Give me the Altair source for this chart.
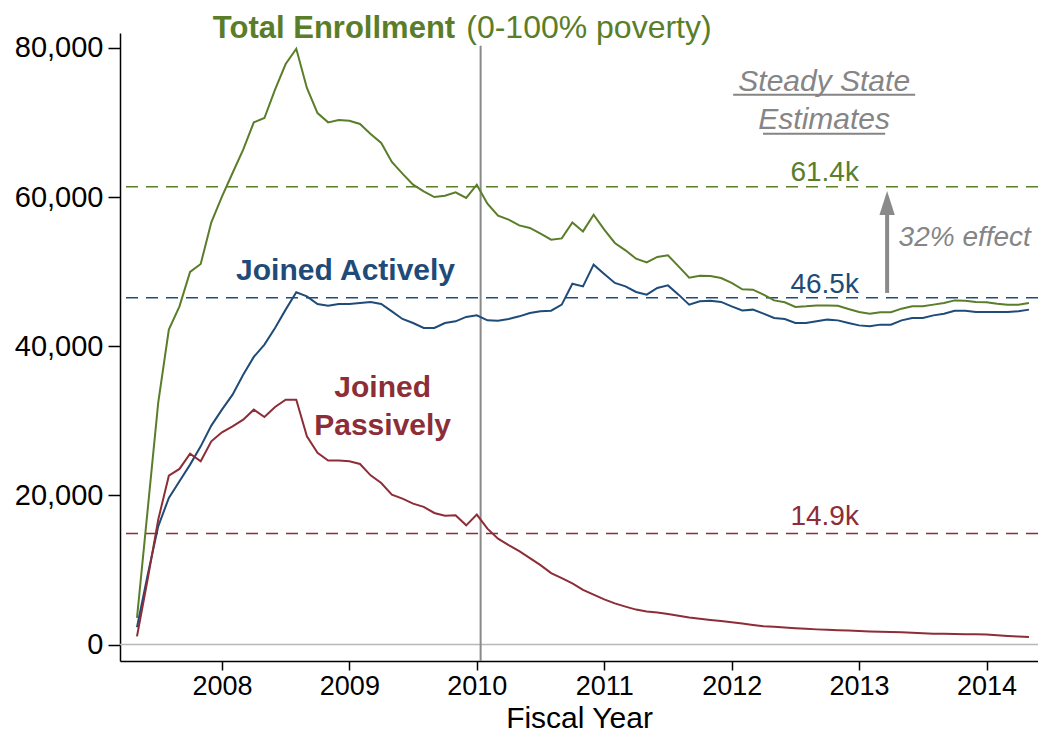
import altair as alt
import pandas as pd

# ---------------- data ----------------
START_YEAR = 2007 + 4 / 12          # first monthly observation (May 2007)
total = [3580, 18000, 32440, 42230, 45350, 49960, 51030, 56610, 60060, 63230,
         66350, 70020, 70600, 74400, 77840, 79890, 74630, 71270, 70020, 70340,
         70240, 69800, 68460, 67250, 64700, 63140, 61660, 60770, 60010, 60190,
         60630, 59880, 61660, 59120, 57500, 56970, 56210, 55860, 55090, 54290,
         54460, 56610, 55400, 57640, 55630, 53850, 52860, 51740, 51250, 51970,
         52190, 50710, 49200, 49460, 49420, 49150, 48490, 47630, 47590, 46920,
         46150, 45890, 45270, 45350, 45480, 45480, 45440, 45000, 44600, 44370,
         44550, 44550, 45040, 45350, 45350, 45580, 45800, 46150, 46110, 45940,
         45890, 45710, 45580, 45580, 45800]
active = [2320, 9290, 15860, 19670, 21890, 24130, 26580, 29360, 31500, 33510,
          36190, 38570, 40220, 42450, 44910, 47230, 46690, 45670, 45440, 45670,
          45670, 45800, 45940, 45670, 44680, 43660, 43120, 42450, 42450, 43120,
          43340, 43930, 44140, 43470, 43430, 43660, 44010, 44460, 44680, 44770,
          45580, 48390, 48030, 50940, 49690, 48490, 48030, 47280, 46920, 47820,
          48160, 46920, 45580, 46020, 46110, 45940, 45350, 44810, 44910, 44370,
          43790, 43660, 43120, 43120, 43340, 43570, 43470, 43120, 42800, 42670,
          42900, 42900, 43470, 43790, 43790, 44140, 44370, 44770, 44770, 44600,
          44600, 44600, 44600, 44680, 44910]
passive = [1110, 8710, 16760, 22650, 23550, 25600, 24570, 27250, 28460, 29260,
           30160, 31500, 30520, 31860, 32840, 32840, 27920, 25700, 24670, 24670,
           24570, 24220, 22690, 21670, 20110, 19570, 18900, 18460, 17650, 17290,
           17330, 15990, 17430, 15550, 14210, 13340, 12530, 11600, 10660, 9580,
           8910, 8200, 7330, 6700, 6070, 5520, 5090, 4690, 4450, 4290,
           4110, 3860, 3640, 3460, 3310, 3150, 2990, 2820, 2640, 2450,
           2390, 2290, 2200, 2120, 2040, 1980, 1930, 1880, 1820, 1770,
           1730, 1680, 1640, 1580, 1530, 1470, 1450, 1420, 1390, 1370,
           1340, 1260, 1150, 1070, 1010]

series_names = ["Total Enrollment", "Joined Actively", "Joined Passively"]
series_colors = ["#5a7d2a", "#1e4b78", "#8c2d37"]
steady_values = [61400, 46500, 14900]
steady_labels = ["61.4k", "46.5k", "14.9k"]
x_ticks = [2008, 2009, 2010, 2011, 2012, 2013, 2014]
y_ticks = [0, 20000, 40000, 60000, 80000]
policy_year = 2010.03
effect_label = "32% effect"

GRAY_TXT = "#858585"
GRAY_LINE = "#8a8a8a"
FONT = "Liberation Sans"

# ---------------- tables ----------------
rows = []
for name, vals in zip(series_names, [total, active, passive]):
    for i, v in enumerate(vals):
        rows.append({"series": name, "x": START_YEAR + i / 12, "y": v})
lines_df = pd.DataFrame(rows)

steady_df = pd.DataFrame({"series": series_names, "y": steady_values,
                          "text": steady_labels,
                          "ty": [62200, 47150, 16090], "x": [2012.73] * 3})

xs = alt.Scale(domain=[2007.2, 2014.404], nice=False, zero=False)
ys = alt.Scale(domain=[-2200, 82000], nice=False, zero=False)
cs = alt.Scale(domain=series_names, range=series_colors)

x_axis = alt.Axis(values=x_ticks, format="d", title="Fiscal Year", grid=False,
                  tickSize=9, labelFontSize=27, labelPadding=3,
                  titleFontSize=30, titleFontWeight="normal",
                  titleY=66, titleBaseline="alphabetic",
                  labelFlush=False)
y_axis = alt.Axis(values=y_ticks, format=",d", title=None, grid=False,
                  tickSize=12, labelFontSize=29, labelPadding=5)


def X(field="x"):
    return alt.X(f"{field}:Q", scale=xs, axis=x_axis)


def Y(field="y"):
    return alt.Y(f"{field}:Q", scale=ys, axis=y_axis)


def text_layer(df, **kw):
    return alt.Chart(df).mark_text(font=FONT, baseline="alphabetic", **kw).encode(
        x=X(), y=Y(), text="text:N")


zero_line = alt.Chart(pd.DataFrame({"y": [0]})).mark_rule(
    color="#b8b8b8", strokeWidth=1.5).encode(y=Y())

vline = alt.Chart(pd.DataFrame({"x": [policy_year], "y": [80300], "y2": [-2200]})).mark_rule(
    color=GRAY_LINE, strokeWidth=2).encode(x=X(), y=Y(), y2="y2:Q")

steady_rules = alt.Chart(steady_df).mark_rule(
    strokeDash=[12, 8], strokeWidth=1.5).encode(
    y=Y(), color=alt.Color("series:N", scale=cs, legend=None))

steady_text = alt.Chart(steady_df).mark_text(
    fontSize=28, font=FONT, align="center", baseline="alphabetic").encode(
    x=X(), y=Y("ty"), text="text:N",
    color=alt.Color("series:N", scale=cs, legend=None))

lines = alt.Chart(lines_df).mark_line(strokeWidth=2).encode(
    x=X(), y=Y(), color=alt.Color("series:N", scale=cs, legend=None),
    order=alt.Order("x:Q"))

# arrow showing effect
arrow_shaft = alt.Chart(pd.DataFrame({"x": [2013.22], "y": [47150], "y2": [57640]})).mark_rule(
    color=GRAY_LINE, strokeWidth=4).encode(x=X(), y=Y(), y2="y2:Q")
arrow_head = alt.Chart(pd.DataFrame({"x": [2013.22], "y": [59210]})).mark_point(
    shape="M0,-1L0.64,1L-0.64,1Z", size=576, filled=True, opacity=1,
    color=GRAY_LINE, strokeWidth=0).encode(x=X(), y=Y())
effect_text = text_layer(
    pd.DataFrame({"x": [2013.31], "y": [53430], "text": [effect_label]}),
    fontSize=28, fontStyle="italic", align="left", color=GRAY_TXT)

# steady state header (underlined)
ss_text = text_layer(
    pd.DataFrame({"x": [2012.726, 2012.726], "y": [74260, 69170],
                  "text": ["Steady State", "Estimates"]}),
    fontSize=30, fontStyle="italic", align="center", color=GRAY_TXT)
ss_under = alt.Chart(pd.DataFrame({"x": [2012.012, 2012.246], "x2": [2013.44, 2013.205],
                                   "y": [73730, 68500]})).mark_rule(
    color=GRAY_TXT, strokeWidth=2).encode(x=X(), x2="x2:Q", y=Y())

# series labels
title_bold = text_layer(
    pd.DataFrame({"x": [2009.83], "y": [81370], "text": ["Total Enrollment"]}),
    fontSize=31, fontWeight="bold", align="right", color=series_colors[0])
title_reg = text_layer(
    pd.DataFrame({"x": [2009.917], "y": [81370], "text": ["(0-100% poverty)"]}),
    fontSize=32, align="left", color=series_colors[0])
active_lbl = text_layer(
    pd.DataFrame({"x": [2008.97], "y": [48930], "text": ["Joined Actively"]}),
    fontSize=30, fontWeight="bold", align="center", color=series_colors[1])
passive_lbl = text_layer(
    pd.DataFrame({"x": [2009.261, 2009.261], "y": [33150, 28150],
                  "text": ["Joined", "Passively"]}),
    fontSize=30, fontWeight="bold", align="center", color=series_colors[2])

chart = alt.layer(
    zero_line, vline, steady_rules, lines, steady_text,
    arrow_shaft, arrow_head, effect_text, ss_text, ss_under,
    title_bold, title_reg, active_lbl, passive_lbl
).properties(
    width=918, height=628,
    padding={"left": 112, "top": 25, "right": 0, "bottom": 73},
    autosize=alt.AutoSizeParams(type="none"),
).configure_axis(
    domainColor="black", domainWidth=1.5, tickColor="black", tickWidth=1.5,
    labelFont=FONT, labelColor="black", titleFont=FONT, titleColor="black",
).configure_view(stroke=None)

chart.save("out.html", embed_options={"renderer": "svg", "actions": False})
